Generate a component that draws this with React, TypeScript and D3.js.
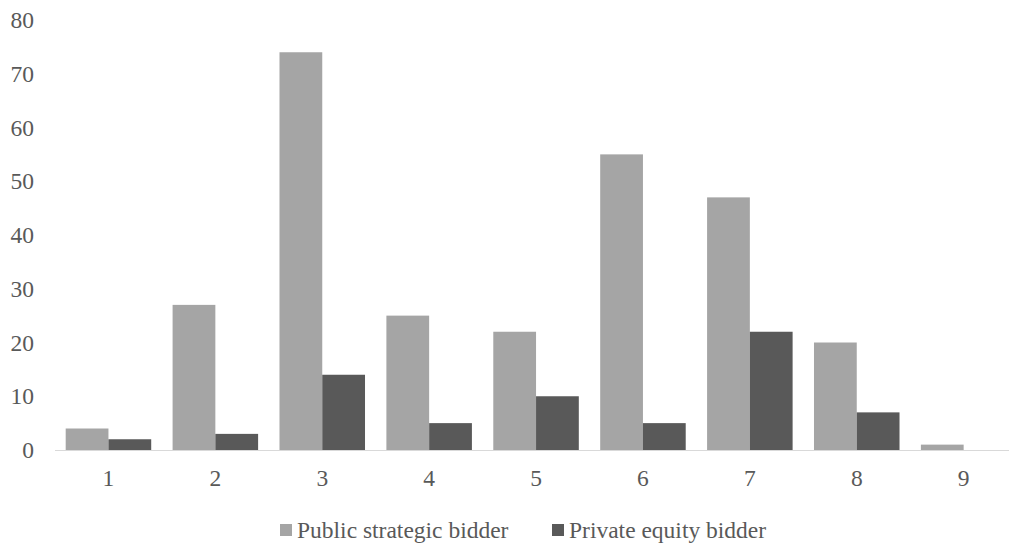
import { useEffect, useRef } from 'react';
import * as d3 from 'd3';

const categories = ['1', '2', '3', '4', '5', '6', '7', '8', '9'];
const publicBidder = [4, 27, 74, 25, 22, 55, 47, 20, 1];
const privateBidder = [2, 3, 14, 5, 10, 5, 22, 7, 0];
const yTicks = [0, 10, 20, 30, 40, 50, 60, 70, 80];
const seriesNames = ['Public strategic bidder', 'Private equity bidder'];
const colors = ['#a5a5a5', '#595959'];

const App = () => {
  const svgRef = useRef<SVGSVGElement>(null);

  useEffect(() => {
    const width = 1009;
    const height = 544;
    const font = 'Times New Roman, serif';
    const textColor = '#595959';

    if (!svgRef.current) return;
    const svg = d3.select(svgRef.current);
    svg.selectAll('*').remove();
    svg.attr('width', width).attr('height', height)
      .attr('font-family', font)
      .attr('font-size', 23.5)
      .attr('fill', textColor);

    const xScale = d3.scaleBand()
      .domain(categories)
      .range([55, 55 + 106.9 * 9])
      .padding(0);

    const yScale = d3.scaleLinear()
      .domain([0, 80])
      .range([450, 20]);

    // bars sit in 80% of each band (Excel gap width 50%)
    const inner = d3.scaleBand()
      .domain(['0', '1'])
      .range([0, xScale.bandwidth()])
      .paddingInner(0)
      .paddingOuter(0.25);

    const series = [publicBidder, privateBidder];
    series.forEach((vals, si) => {
      svg.append('g')
        .selectAll('rect')
        .data(vals)
        .enter()
        .append('rect')
        .attr('x', (_, i) => (xScale(categories[i]) ?? 0) + (inner(String(si)) ?? 0))
        .attr('y', d => yScale(d))
        .attr('width', inner.bandwidth())
        .attr('height', d => yScale(0) - yScale(d))
        .attr('fill', colors[si]);
    });

    // x axis line
    svg.append('line')
      .attr('x1', xScale.range()[0])
      .attr('x2', xScale.range()[1])
      .attr('y1', yScale(0) + 0.5)
      .attr('y2', yScale(0) + 0.5)
      .attr('stroke', '#d9d9d9')
      .attr('stroke-width', 1);

    // y tick labels
    svg.append('g')
      .selectAll('text')
      .data(yTicks)
      .enter()
      .append('text')
      .attr('x', 34)
      .attr('y', d => yScale(d))
      .attr('dy', '0.35em')
      .attr('text-anchor', 'end')
      .text(d => d);

    // x tick labels
    svg.append('g')
      .selectAll('text')
      .data(categories)
      .enter()
      .append('text')
      .attr('x', d => (xScale(d) ?? 0) + xScale.bandwidth() / 2)
      .attr('y', 478)
      .attr('dy', '0.35em')
      .attr('text-anchor', 'middle')
      .text(d => d);

    // legend
    const legendX = [280, 552];
    const legend = svg.append('g');
    seriesNames.forEach((name, i) => {
      legend.append('rect')
        .attr('x', legendX[i])
        .attr('y', 524)
        .attr('width', 12)
        .attr('height', 12)
        .attr('fill', colors[i]);
      legend.append('text')
        .attr('x', legendX[i] + 17)
        .attr('y', 530)
        .attr('dy', '0.35em')
        .text(name);
    });
  }, []);

  return (
    <svg
      ref={svgRef}
      style={{ position: 'absolute', left: 0, top: 0, display: 'block', background: '#fff' }}
    ></svg>
  );
};

export default App;
